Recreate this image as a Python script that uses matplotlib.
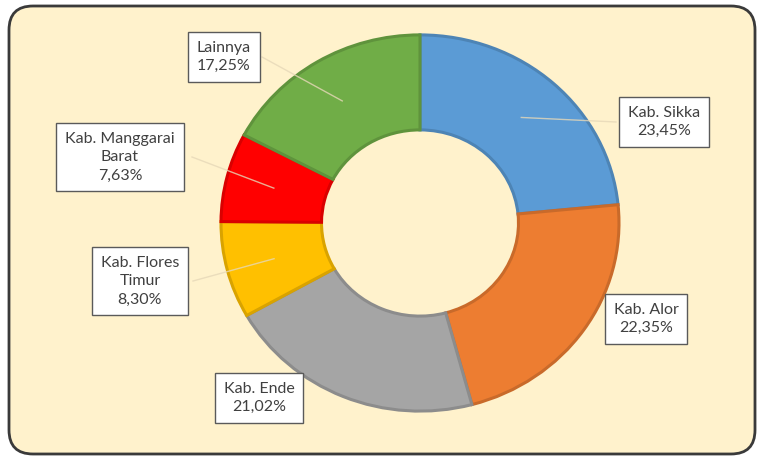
import numpy as np
import matplotlib.pyplot as plt
from matplotlib.patches import FancyBboxPatch
from matplotlib.colors import to_rgb

regions = ["Kab. Sikka", "Kab. Alor", "Kab. Ende", "Kab. Flores\nTimur",
           "Kab. Manggarai\nBarat", "Lainnya"]
shares = [23.45, 22.35, 21.02, 8.30, 7.63, 17.25]
colors = ["#5B9BD5", "#ED7D31", "#A5A5A5", "#FFC000", "#FF0000", "#70AD47"]

# label box centres (figure pixels, origin top-left), leader start x (None = no leader)
label_pos = [(664, 122), (646, 319), (259, 398), (140, 281), (120, 157), (224, 57)]
leader_x = [616, None, None, 193, 192, 262]

W, H = 762, 459
fig = plt.figure(figsize=(W / 100, H / 100), dpi=100)
fig.patch.set_facecolor("white")

# rounded background panel
bg = fig.add_axes([0, 0, 1, 1])
bg.set_xlim(0, W)
bg.set_ylim(H, 0)
bg.axis("off")
panel = FancyBboxPatch((9, 6), 746, 448, boxstyle="round,pad=0,rounding_size=24",
                       facecolor="#FFF2CC", edgecolor="#3a3a3a", linewidth=2.0)
bg.add_patch(panel)

# donut
cx, cy, rx, ry = 420, 223, 201, 190
pax = fig.add_axes([(cx - rx) / W, (H - cy - ry) / H, 2 * rx / W, 2 * ry / H])


def darker(c, f=0.85):
    r, g, b = to_rgb(c)
    return (r * f, g * f, b * f)


wedges, _ = pax.pie(shares, colors=colors, startangle=90, counterclock=False,
                    radius=0.99, wedgeprops=dict(width=0.50, linewidth=2.2),
                    frame=True)
for w, c in zip(wedges, colors):
    w.set_edgecolor(darker(c))
pax.set_xlim(-1, 1)
pax.set_ylim(-1, 1)
pax.set_aspect("auto")
pax.axis("off")

# overlay for leader lines and labels
top = fig.add_axes([0, 0, 1, 1])
top.set_xlim(0, W)
top.set_ylim(H, 0)
top.axis("off")
top.patch.set_alpha(0)

for w, name, val, (lx, ly), ex in zip(wedges, regions, shares, label_pos, leader_x):
    mid = np.deg2rad((w.theta1 + w.theta2) / 2)
    px = cx + 0.75 * rx * np.cos(mid)
    py = cy - 0.75 * ry * np.sin(mid)
    txt = f"{name}\n{val:.2f}%".replace(".", ",").replace("Kab,", "Kab.")
    top.text(lx, ly, txt, ha="center", va="center", fontsize=11.5,
             family="Lato", color="#404040", linespacing=1.4,
             bbox=dict(boxstyle="square,pad=0.55", facecolor="white",
                       edgecolor="#5a5a5a", linewidth=1.0), zorder=5)
    if ex is not None:
        top.plot([ex, px], [ly, py], color="#e6d8b8", alpha=0.8,
                 linewidth=1.0, zorder=4)

fig.savefig("out.png", dpi=100, facecolor="white")
